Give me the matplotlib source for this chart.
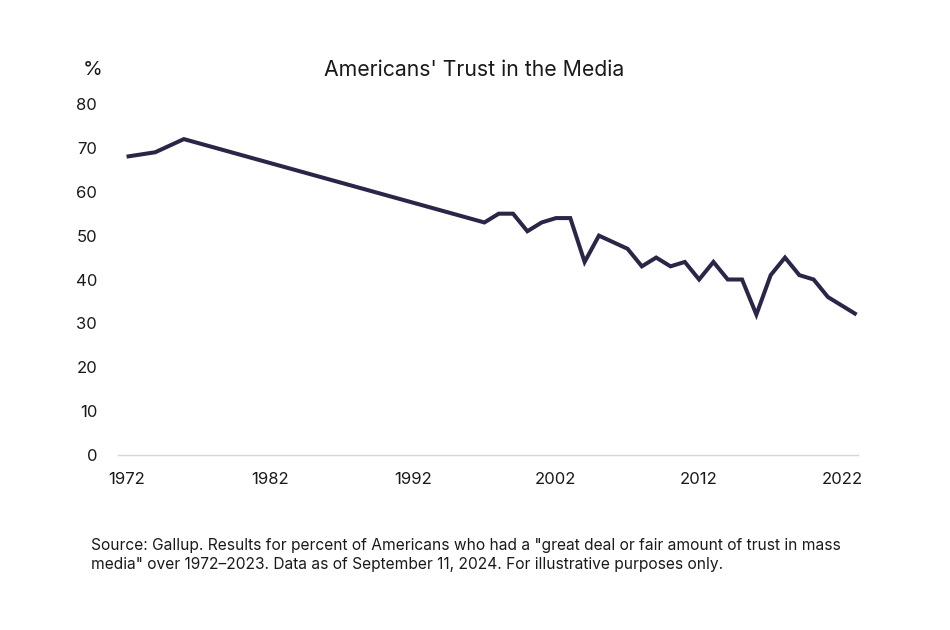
import matplotlib.pyplot as plt

plt.rcParams['font.family'] = ['Inter', 'DejaVu Sans']

years = [1972, 1974, 1976, 1997, 1998, 1999, 2000, 2001, 2002, 2003, 2004, 2005,
         2007, 2008, 2009, 2010, 2011, 2012, 2013, 2014, 2015, 2016, 2017, 2018,
         2019, 2020, 2021, 2022, 2023]
trust = [68, 69, 72, 53, 55, 55, 51, 53, 54, 54, 44, 50,
         47, 43, 45, 43, 44, 40, 44, 40, 40, 32, 41, 45,
         41, 40, 36, 34, 32]
xticks = [1972, 1982, 1992, 2002, 2012, 2022]
yticks = [0, 10, 20, 30, 40, 50, 60, 70, 80]

title = "Americans' Trust in the Media"
source = ('Source: Gallup. Results for percent of Americans who had a "great deal or fair amount of trust in mass\n'
          'media" over 1972\u20132023. Data as of September 11, 2024. For illustrative purposes only.')

line_color = '#2b2547'
text_color = '#1a1a1a'

fig = plt.figure(figsize=(9.5, 6.3), dpi=100)
ax = fig.add_axes([118 / 950, 1 - 455 / 630, 740 / 950, 351 / 630])

ax.plot(years, trust, color=line_color, lw=2.9, solid_joinstyle='miter', solid_capstyle='butt')

ax.set_xlim(1971.4, 2023.1)
ax.set_ylim(0, 80)
ax.set_xticks(xticks)
ax.set_yticks(yticks)
ax.tick_params(length=0, labelsize=12, labelcolor=text_color)
ax.tick_params(axis='y', pad=15)
ax.tick_params(axis='x', pad=12)
for s in ['top', 'right', 'left']:
    ax.spines[s].set_visible(False)
ax.spines['bottom'].set_color('#d6d6d6')
ax.spines['bottom'].set_linewidth(1)

fig.text(474 / 950, 1 - 70 / 630, title, ha='center', va='center', fontsize=15.3, color=text_color)
fig.text(93 / 950, 1 - 70 / 630, '%', ha='center', va='center', fontsize=14.5, color=text_color)
fig.text(91 / 950, 1 - 555 / 630, source, ha='left', va='center', fontsize=11.2,
         color=text_color, linespacing=1.3)

fig.savefig('out.png', dpi=100)
